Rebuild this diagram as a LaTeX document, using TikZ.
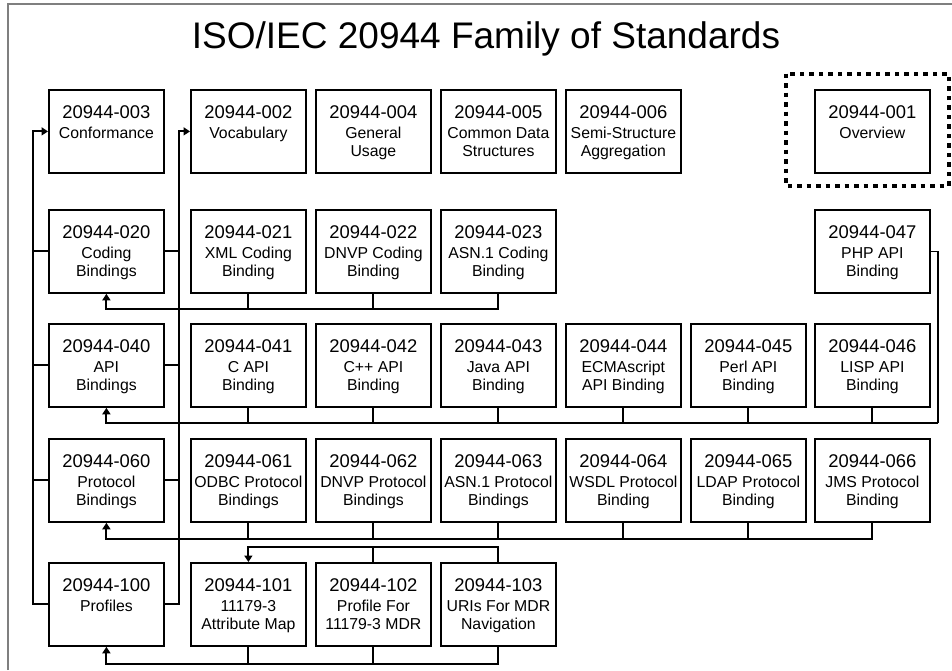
\documentclass[tikz,border=0pt]{standalone}
\usepackage{fontspec}
\setmainfont{Liberation Sans}
\usetikzlibrary{arrows.meta}
\definecolor{frame}{HTML}{7F7F7F}
\definecolor{ink}{HTML}{000000}
% box text: number on top, then the title lines
\newcommand{\stdlabel}[2]{\parbox[c][83pt][t]{115pt}{\centering\rule{0pt}{29pt}{\fontsize{18.4}{20}\selectfont 20944-#1}\\[1pt]#2}}

\begin{document}
\begin{tikzpicture}[x=1pt,y=-1pt,
  std/.style={draw=ink,line width=1.8pt,inner sep=0pt,anchor=north west,
    font=\fontsize{15.8}{18.4}\selectfont},
  link/.style={draw=ink,line width=2pt},
  arr/.style={link,-{Triangle[length=6.5pt,width=8pt]}}]
  % canvas 952 x 670
  \useasboundingbox (0,0) rectangle (952,670);
  \fill[white] (0,0) rectangle (952,670);
  \draw[frame,line width=1.2pt] (8,670) -- (8,4) -- (952,4);

  % title
  \node[anchor=base,font=\fontsize{37}{40}\selectfont] (title) at (486,48)
    {ISO/IEC 20944 Family of Standards};

  % ---- boxes ----
  \foreach \n/\x/\y/\txt in {
    003/48/89/{Conformance}, 002/190/89/{Vocabulary}, 004/315/89/{General\\Usage},
    005/440/89/{Common Data\\Structures}, 006/565/89/{Semi-Structure\\Aggregation},
    001/814/89/{Overview},
    020/48/209/{Coding\\Bindings}, 021/190/209/{XML Coding\\Binding},
    022/315/209/{DNVP Coding\\Binding}, 023/440/209/{ASN.1 Coding\\Binding},
    047/814/209/{PHP API\\Binding},
    040/48/323/{API\\Bindings}, 041/190/323/{C API\\Binding},
    042/315/323/{C++ API\\Binding}, 043/440/323/{Java API\\Binding},
    044/565/323/{ECMAscript\\API Binding}, 045/690/323/{Perl API\\Binding},
    046/814/323/{LISP API\\Binding},
    060/48/438/{Protocol\\Bindings}, 061/190/438/{ODBC Protocol\\Bindings},
    062/315/438/{DNVP Protocol\\Bindings}, 063/440/438/{ASN.1 Protocol\\Bindings},
    064/565/438/{WSDL Protocol\\Binding}, 065/690/438/{LDAP Protocol\\Binding},
    066/814/438/{JMS Protocol\\Binding},
    100/48/562/{Profiles}, 101/190/562/{11179-3\\Attribute Map},
    102/315/562/{Profile For\\11179-3 MDR}, 103/440/562/{URIs For MDR\\Navigation}}{
    \node[std] (s\n) at (\x,\y) {\stdlabel{\n}{\txt}};
  }

  % overview frame
  \draw[ink,line width=4pt,dash pattern=on 4.5pt off 5pt] (786,73.5) rectangle (948.5,186);

  % ---- left spines ----
  \draw[arr] (s100.west) -- ++(-15,0) |- (s003.west);
  \draw[arr] (s100.east) -- ++(14,0) |- (s002.west);
  \foreach \n in {020,040,060}{
    \draw[link] (s\n.west) -- ++(-15,0);
    \draw[link] (s\n.east) -- ++(14,0);
  }

  % ---- coding bindings ----
  \draw[arr] (s023.south) -- ++(0,15) -| (s020.south);
  \foreach \n in {021,022}{
    \draw[link] (s\n.south) -- ++(0,15);
  }

  % ---- api bindings ----
  \coordinate (bus2) at (938,423);
  \draw[ink,line width=1.4pt] (s047.east) -| (bus2);
  \draw[arr] (bus2) -| (s040.south);
  \foreach \n in {041,042,043,044,045,046}{
    \draw[link] (s\n.south) -- (s\n.south |- bus2);
  }

  % ---- protocol bindings ----
  \draw[arr] (s066.south) -- ++(0,16) -| (s060.south);
  \foreach \n in {061,062,063,064,065}{
    \draw[link] (s\n.south) -- ++(0,16);
  }

  % ---- profiles ----
  \draw[arr] (s103.north) -- ++(0,-15) -| (s101.north);
  \draw[link] (s102.north) -- ++(0,-15);
  \draw[arr] (s103.south) -- ++(0,17) -| (s100.south);
  \foreach \n in {101,102}{
    \draw[link] (s\n.south) -- ++(0,17);
  }
\end{tikzpicture}
\end{document}
